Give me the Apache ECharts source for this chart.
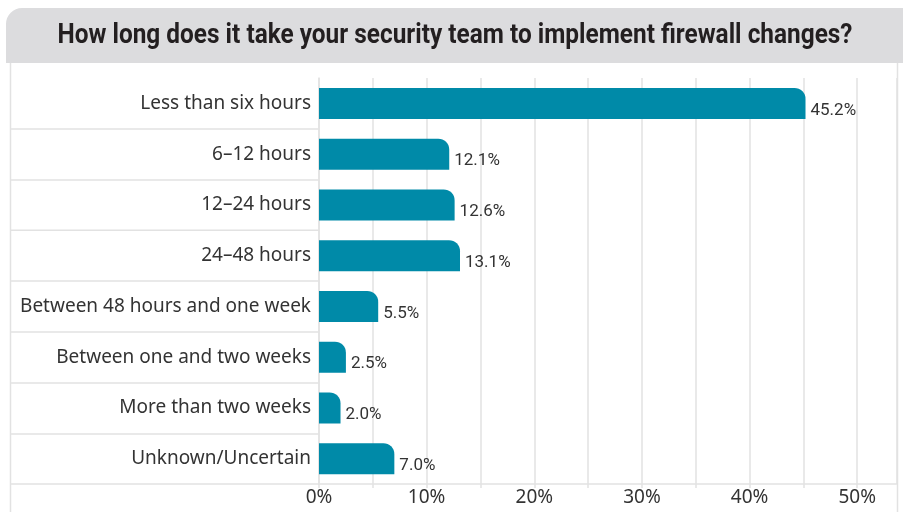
<!DOCTYPE html>
<html>
<head>
<meta charset="utf-8">
<script src="https://cdn.jsdelivr.net/npm/echarts@6/dist/echarts.min.js"></script>
<style>html,body{margin:0;padding:0;background:#fff;}#c{width:903px;height:512px;}</style>
</head>
<body>
<div id="c"></div>
<script>
const titleText = 'How long does it take your security team to implement firewall changes?';
const categories = ['Less than six hours','6–12 hours','12–24 hours','24–48 hours','Between 48 hours and one week','Between one and two weeks','More than two weeks','Unknown/Uncertain'];
const values = [45.2, 12.1, 12.6, 13.1, 5.5, 2.5, 2.0, 7.0];
const tickStep = 5;
const labelStep = 10;

const chart = echarts.init(document.getElementById('c'), null, {renderer: 'canvas'});
const lineColor = '#e2e2e2';
const titleFont = "bold 27px 'Roboto', sans-serif";
const mctx = document.createElement('canvas').getContext('2d');
mctx.font = titleFont;
const titleScale = 795 / mctx.measureText(titleText).width;

chart.setOption({
  animation: false,
  backgroundColor: '#fff',
  graphic: [
    {type: 'rect', shape: {x: 6, y: 8, width: 900, height: 55, r: [16, 0, 0, 0]}, style: {fill: '#dcdcde'}, z: 0},
    {type: 'line', shape: {x1: 10.5, y1: 63, x2: 10.5, y2: 512}, style: {stroke: lineColor, lineWidth: 1.5}, z: 0},
    {type: 'line', shape: {x1: 897.5, y1: 63, x2: 897.5, y2: 512}, style: {stroke: lineColor, lineWidth: 1.5}, z: 0},
    {type: 'text', x: 455, y: 23, scaleX: titleScale, style: {text: titleText, fill: '#231f20', font: titleFont, align: 'center', verticalAlign: 'top'}, z: 5}
  ],
  grid: {left: 319, right: 6, top: 78, bottom: 28, containLabel: false},
  xAxis: {
    type: 'value', min: 0, max: 53.7, interval: tickStep,
    axisLine: {show: true, lineStyle: {color: lineColor, width: 1.5}},
    axisTick: {show: true, length: 4, lineStyle: {color: lineColor, width: 1.5}},
    splitLine: {show: true, lineStyle: {color: lineColor, width: 1.5}},
    axisLabel: {
      color: '#333', fontSize: 19, fontFamily: "'Noto Sans', sans-serif", margin: 4,
      showMaxLabel: false,
      formatter: v => (Math.abs(v % labelStep) < 1e-6 ? v + '%' : '')
    }
  },
  yAxis: {
    type: 'category', data: categories, inverse: true,
    axisLine: {show: true, lineStyle: {color: lineColor, width: 1.5}},
    axisTick: {show: true, length: 309, interval: (i) => i > 0, lineStyle: {color: lineColor, width: 1.5}},
    axisLabel: {color: '#333', fontSize: 19, fontFamily: "'Noto Sans', sans-serif", margin: 8},
    splitLine: {show: false}
  },
  series: [{
    type: 'bar', data: values, barWidth: 31,
    itemStyle: {color: '#008aa8', borderRadius: [0, 11, 0, 0]},
    label: {
      show: true, position: 'right', distance: 5, offset: [0, 7],
      color: '#333', fontSize: 17, fontFamily: "'Roboto', sans-serif",
      formatter: p => p.value.toFixed(1) + '%'
    }
  }]
});
</script>
</body>
</html>
